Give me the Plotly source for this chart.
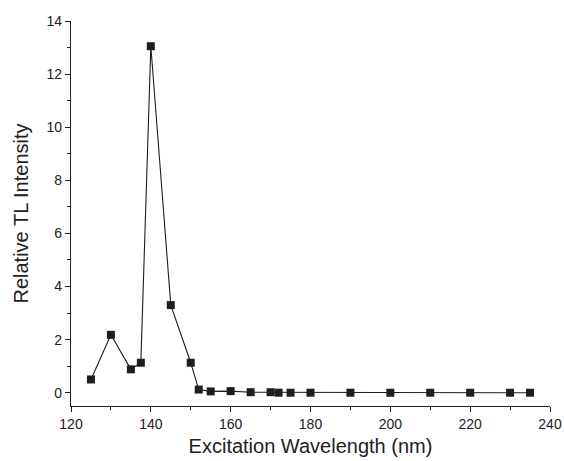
import plotly.graph_objects as go

# Excitation spectrum of the thermoluminescence signal
wavelength_nm = [125, 130, 135, 137.5, 140, 145, 150, 152, 155, 160, 165,
                 170, 172, 175, 180, 190, 200, 210, 220, 230, 235]
tl_intensity = [0.50, 2.18, 0.88, 1.13, 13.05, 3.30, 1.13, 0.12, 0.05, 0.06, 0.02,
                0.02, 0.0, 0.0, 0.0, 0.0, 0.0, 0.0, 0.0, 0.0, 0.0]

x_ticks = [120, 140, 160, 180, 200, 220, 240]
y_ticks = [0, 2, 4, 6, 8, 10, 12, 14]

ink = "#1e1e1e"
font = "Liberation Sans, Arial, sans-serif"

fig = go.Figure(
    go.Scatter(
        x=wavelength_nm,
        y=tl_intensity,
        mode="lines+markers",
        line=dict(color=ink, width=1.1),
        marker=dict(symbol="square", size=8, color=ink),
        showlegend=False,
    )
)

axis_common = dict(
    showline=True,
    linecolor=ink,
    linewidth=1.1,
    ticks="outside",
    ticklen=5,
    tickwidth=1,
    tickcolor=ink,
    showgrid=False,
    zeroline=False,
    automargin=False,
    tickfont=dict(family=font, size=14, color="#222222"),
    mirror=False,
)

fig.update_xaxes(
    range=[120, 240],
    tickvals=x_ticks,
    minor=dict(dtick=10, ticks="outside", ticklen=3, tickcolor=ink, showgrid=False),
    title=dict(text="Excitation Wavelength (nm)", font=dict(family=font, size=20, color="#222222"), standoff=8),
    **axis_common,
)
fig.update_yaxes(
    range=[-0.5, 14],
    tickvals=y_ticks,
    minor=dict(dtick=1, ticks="outside", ticklen=3, tickcolor=ink, showgrid=False),
    title=dict(text="Relative TL Intensity", font=dict(family=font, size=20, color="#222222"), standoff=12),
    **axis_common,
)

fig.update_layout(
    width=564,
    height=461,
    margin=dict(l=71, r=14, t=21, b=55),
    paper_bgcolor="white",
    plot_bgcolor="white",
)

fig.write_html("out.html")
